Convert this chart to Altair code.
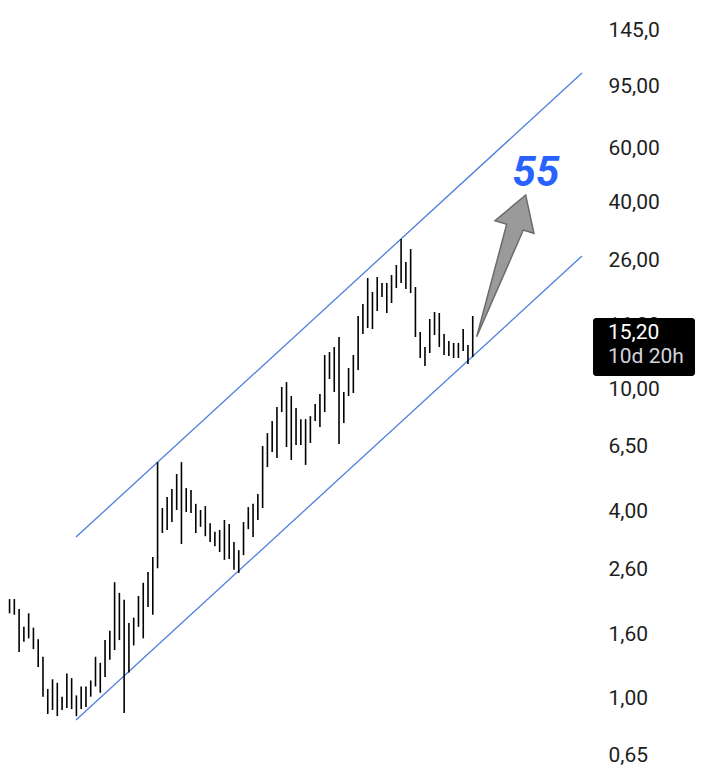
import altair as alt
import pandas as pd

# ---- data (bar index, high / low prices) ----
highs = [2.56, 2.25, 2.09, 2.09, 1.94, 1.70, 1.88, 1.69, 1.55, 1.36,
         1.07, 1.15, 1.12, 1.01, 1.20, 1.16, 1.02, 1.09, 1.09, 1.14,
         1.36, 1.30, 1.54, 1.65, 2.37, 2.19, 2.08, 1.75, 1.82, 2.14,
         2.36, 2.56, 2.86, 5.80, 4.12, 4.47, 4.75, 5.31, 5.80, 4.78,
         4.71, 4.25, 4.06, 4.18, 3.68, 3.45, 3.50, 3.77, 3.66, 3.20,
         3.01, 3.71, 4.15, 4.25, 4.57, 6.54, 7.20, 7.88, 8.74, 10.15,
         10.53, 9.49, 8.68, 7.99, 7.99, 8.17, 8.94, 9.63, 12.88, 13.17,
         13.67, 14.73, 9.78, 11.69, 12.88, 17.23, 18.84, 22.87, 20.60, 23.04,
         22.03, 22.03, 23.38, 25.19, 30.57, 25.76, 28.38, 21.38, 15.29, 13.67,
         16.85, 17.75, 17.62, 15.06, 14.30, 14.09, 14.09, 15.64, 13.88, 17.23]

lows = [2.12, 1.88, 1.88, 1.86, 1.41, 1.52, 1.56, 1.44, 1.26, 1.01,
        0.888, 0.915, 0.874, 0.915, 0.928, 0.921, 0.874, 0.921, 0.935, 1.01,
        1.09, 1.04, 1.17, 1.33, 1.43, 1.54, 0.894, 1.21, 1.48, 1.70,
        1.56, 1.97, 1.86, 2.63, 3.42, 3.50, 3.71, 4.06, 3.15, 4.00,
        3.97, 3.42, 3.58, 3.34, 3.20, 3.10, 2.97, 2.80, 2.82, 2.60,
        2.54, 2.90, 3.52, 3.32, 3.77, 4.12, 5.59, 6.25, 5.98, 8.42,
        6.49, 5.89, 6.59, 6.59, 5.68, 6.69, 7.88, 7.53, 8.42, 10.77,
        9.78, 6.64, 7.76, 9.49, 9.71, 11.52, 15.06, 15.75, 15.64, 17.88,
        19.84, 17.62, 18.98, 21.22, 22.03, 21.06, 20.45, 14.73, 12.60, 11.87,
        13.08, 14.95, 13.67, 12.88, 12.79, 12.60, 12.60, 13.27, 12.04, 12.69]

bar_index = list(range(len(highs)))

# channel lines (start / end in bar index and price)
upper_x = [15.92, 121.88]
upper_p = [3.319, 105.36]
lower_x = [15.92, 121.88]
lower_p = [0.849, 26.94]

tick_values = [0.65, 1, 1.6, 2.6, 4, 6.5, 10, 16, 26, 40, 60, 95, 145]

last_price = 15.20
last_price_text = "15,20"
countdown = "10d 20h"

target_text = "55"
target_x = [112.25]
target_p = [50.0]

arrow_x = [105.82]
arrow_p = [25.04]

# ---- layout ----
W, H = 584, 764
X_DOMAIN = [1.675, 123.98]
Y_DOMAIN = [0.5763, 171.0]

bars = pd.DataFrame({"i": bar_index, "low": lows, "high": highs})
channel = pd.DataFrame({
    "i": upper_x + lower_x,
    "p": upper_p + lower_p,
    "line": ["upper", "upper", "lower", "lower"],
})
target = pd.DataFrame({"i": target_x, "p": target_p, "t": [target_text]})
arrow = pd.DataFrame({"i": arrow_x, "p": arrow_p})
price = pd.DataFrame({"p": [last_price], "t": [last_price_text], "c": [countdown]})

xscale = alt.Scale(domain=X_DOMAIN, nice=False, zero=False)
yscale = alt.Scale(type="log", domain=Y_DOMAIN, nice=False)
label_expr = ("datum.value >= 100 ? replace(format(datum.value, '.1f'), '.', ',') : "
              "replace(format(datum.value, '.2f'), '.', ',')")
yaxis = alt.Axis(orient="right", values=tick_values, labelExpr=label_expr,
                 grid=False, ticks=False, tickSize=0, domain=False,
                 labelPadding=16, labelFont="Roboto", labelFontSize=21,
                 labelColor="#1e1e1e", title=None, labelAlign="left",
                 labelBaseline="middle", labelFlush=False, labelOverlap=False)

X = alt.X("i:Q", scale=xscale, axis=None)

bar_layer = alt.Chart(bars).mark_rule(color="black", strokeWidth=1.6, clip=True).encode(
    x=X,
    y=alt.Y("low:Q", scale=yscale, axis=yaxis),
    y2="high:Q",
)

channel_layer = alt.Chart(channel).mark_line(color="#4d7fdc", strokeWidth=1.3, clip=True).encode(
    x=X,
    y=alt.Y("p:Q", scale=yscale, axis=yaxis),
    detail="line:N",
)

arrow_path = ("M -0.403 0.999 L 0.020 -0.585 L -0.145 -0.635 L 0.287 -0.997 "
              "L 0.404 -0.458 L 0.254 -0.504 Z")
arrow_layer = alt.Chart(arrow).mark_point(
    shape=arrow_path, size=20164, filled=True, fill="#9a9a9a",
    stroke="#6b6b6b", strokeWidth=1.5, opacity=1,
).encode(x=X, y=alt.Y("p:Q", scale=yscale, axis=yaxis))

target_layer = alt.Chart(target).mark_text(
    font="Roboto", fontSize=42, fontWeight="bold", fontStyle="italic",
    color="#2962ff", align="center", baseline="middle",
).encode(x=X, y=alt.Y("p:Q", scale=yscale, axis=yaxis), text="t:N")

box_layer = alt.Chart(price).mark_rect(
    color="black", cornerRadius=3, yOffset=-14.8, y2Offset=43.2,
).encode(
    x=alt.value(585), x2=alt.value(687),
    y=alt.Y("p:Q", scale=yscale, axis=yaxis), y2="p:Q",
)

price_text = alt.Chart(price).mark_text(
    font="Roboto", fontSize=21, color="white", align="left", baseline="middle", dy=0.5,
).encode(x=alt.value(600), y=alt.Y("p:Q", scale=yscale, axis=yaxis), text="t:N")

count_text = alt.Chart(price).mark_text(
    font="Roboto", fontSize=21, color="#d1d4dc", align="left", baseline="middle", dy=24.2,
).encode(x=alt.value(600), y=alt.Y("p:Q", scale=yscale, axis=yaxis), text="c:N")

chart = alt.layer(
    channel_layer, bar_layer, arrow_layer, target_layer, box_layer, price_text, count_text
).properties(width=W, height=H, padding=0, background="white").configure_view(strokeWidth=0)

chart.save("out.html", embed_options={"renderer": "svg", "actions": False})
